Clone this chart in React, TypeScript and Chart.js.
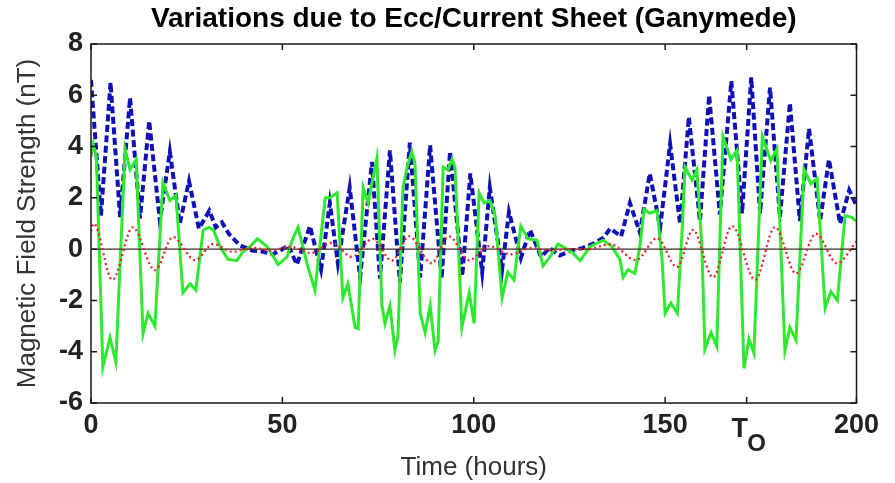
import React, { useEffect, useRef } from 'react';
import { Chart, registerables } from 'chart.js';

Chart.register(...registerables);

const titleText = 'Variations due to Ecc/Current Sheet (Ganymede)';
const xTitle = 'Time (hours)';
const yTitle = 'Magnetic Field Strength (nT)';
const xTickValues = [0, 50, 100, 150, 200];
const yTickValues = [-6, -4, -2, 0, 2, 4, 6, 8];
const tO = 171.3;
const tOMain = 'T';
const tOSub = 'O';

// [time (hours), field (nT)]
const blueSeries: [number, number][] = [
  [0, 6.6], [2.6, 1.3], [5.1, 6.5], [7.6, 1.25], [10.2, 5.9], [12.8, 1.2], [15.2, 5.0], [18.0, 1.1],
  [20.6, 3.8], [23.2, 1.0], [25.6, 2.65], [28.2, 0.8], [30.9, 1.5], [32.6, 0.85], [34.2, 1.05], [36.0, 0.6],
  [38.9, 0.15], [42.0, -0.05], [45.0, -0.1], [47.5, -0.2], [49.5, -0.05], [51.5, 0.15], [53.8, -0.6], [57.2, 0.9],
  [60.1, -0.8], [62.4, 1.8], [64.5, -0.55], [67.6, 2.4], [70.3, -1.1], [73.4, 3.4], [75.5, -1.15], [78.1, 3.85],
  [80.7, -1.3], [83.3, 4.15], [86.0, -1.1], [88.6, 4.05], [91.6, -1.15], [93.8, 3.8], [97.0, -1.05], [99.1, 2.95],
  [102.2, -0.9], [104.2, 2.4], [107.4, -0.8], [109.2, 1.45], [112.3, -0.35], [114.7, 0.75], [117.6, -0.3], [119.8, 0.05],
  [122.5, -0.25], [125.5, -0.05], [128.5, 0.05], [131.0, 0.2], [134.0, 0.45], [135.6, 0.8], [138.5, 0.5], [140.8, 1.8],
  [143.4, 0.65], [146.0, 2.95], [148.7, 0.85], [151.3, 4.1], [153.9, 1.0], [156.2, 5.15], [159.1, 1.1], [161.5, 6.0],
  [164.3, 1.35], [167.3, 6.55], [170.1, 1.4], [172.5, 6.7], [174.8, 1.4], [177.4, 6.3], [180.0, 1.25], [182.6, 5.7],
  [185.2, 1.1], [187.6, 4.7], [190.5, 1.1], [192.8, 3.5], [195.7, 1.0], [198.1, 2.3], [200, 1.7],
];

const greenSeries: [number, number][] = [
  [0, 3.6], [0.6, 4.1], [1.4, 3.6], [3.1, -4.6], [4.96, -3.45], [6.5, -4.4], [8.9, 3.9], [10.2, 3.1],
  [11.8, 3.5], [13.6, -3.3], [14.9, -2.5], [16.7, -3.0], [18.8, 2.6], [20.6, 1.9], [22.2, 2.1], [24.0, -1.7],
  [25.9, -1.35], [27.4, -1.6], [29.3, 0.75], [30.8, 0.85], [32.0, 0.75], [33.7, 0.1], [35.8, -0.4], [38.1, -0.45],
  [39.7, -0.1], [41.5, 0.1], [43.5, 0.4], [46.0, 0.1], [48.9, -0.6], [51.2, -0.3], [52.7, 0.4], [54.1, 0.85],
  [56.5, -0.6], [58.5, -1.6], [61.2, 2.0], [62.4, 2.0], [64.3, 2.2], [65.8, -1.9], [67.1, -1.35], [69.0, -3.05],
  [69.8, -3.1], [71.1, 2.4], [72.4, 1.8], [74.7, 3.55], [76.0, -2.2], [76.8, -2.9], [78.1, -2.2], [79.4, -3.95],
  [80.2, -3.4], [81.5, 2.4], [82.6, 3.2], [83.8, 3.8], [84.65, 3.35], [86.0, -2.5], [87.3, -3.25], [88.6, -2.2],
  [89.9, -3.95], [90.7, -3.6], [92.0, 3.2], [93.3, 3.1], [94.3, 3.5], [95.1, 3.2], [96.9, -3.05], [98.8, -1.7],
  [100.1, -2.9], [101.4, 2.2], [102.7, 1.8], [104.2, 1.9], [105.6, 1.3], [107.4, -1.9], [108.9, -0.9], [110.5, -1.2],
  [112.3, 0.9], [114.2, 0.4], [116.5, 0.35], [118.1, -0.65], [119.9, -0.3], [122.0, 0.2], [123.8, 0.05], [125.9, -0.15],
  [127.8, -0.45], [130.4, 0.1], [133.8, 0.35], [136.1, 0.1], [138.2, -0.4], [139.0, -1.1], [140.3, -0.8], [142.1, -0.95],
  [143.4, 0.1], [144.5, 1.55], [146.05, 1.4], [147.9, 1.5], [149.2, -0.4], [150.0, -2.5], [151.5, -2.1], [153.2, -2.5],
  [154.4, 0.6], [155.2, 3.2], [157.0, 2.7], [158.3, 3.1], [159.6, 0.1], [160.4, -3.9], [162.0, -3.25], [163.5, -3.8],
  [165.1, 4.4], [167.2, 3.5], [168.8, 3.85], [170.6, -4.65], [171.9, -3.5], [173.2, -4.05], [175.4, 4.4], [177.6, 3.45],
  [179.2, 3.9], [181.3, -3.95], [182.6, -3.05], [184.2, -3.55], [186.3, 3.1], [188.1, 2.55], [189.7, 2.75], [191.8, -2.3],
  [193.3, -1.65], [195.0, -2.0], [197.0, 1.3], [198.6, 1.25], [200, 1.1],
];

const redSeries: [number, number][] = [
  [0, 0.7], [0.7, 1.0], [5.6, -1.2], [10.9, 0.85], [16.7, -0.82], [21.4, 0.47], [27.2, -0.43], [31.9, 0.2],
  [37.0, -0.1], [42.0, 0.05], [47.0, -0.05], [52.0, 0.1], [57.5, -0.15], [63.0, 0.25], [68.2, -0.3], [73.6, 0.4],
  [78.6, -0.45], [83.1, 0.5], [89.0, -0.55], [93.5, 0.5], [98.8, -0.43], [104.0, 0.12], [109.5, -0.2], [115.0, 0.05],
  [120.0, -0.05], [125.0, 0], [130.0, 0], [135.6, 0.2], [142.4, -0.43], [147.9, 0.43], [153.1, -0.7], [157.3, 0.75],
  [162.5, -1.1], [167.5, 0.9], [173.5, -1.2], [178.7, 0.86], [184.2, -0.95], [189.4, 0.6], [194.9, -0.55], [200, 0.3],
];

const zeroSeries: [number, number][] = [[0, 0], [200, 0]];

const FONT = '"Liberation Sans", Arial, Helvetica, sans-serif';

const toPoints = (s: [number, number][]) => s.map(([x, y]) => ({ x, y }));

const framePlugin = {
  id: 'matlabFrame',
  afterDatasetsDraw(chart: any) {
    const { ctx, chartArea: a, scales } = chart;
    const x = scales.x;
    const y = scales.y;
    ctx.save();
    ctx.strokeStyle = '#1a1a1a';
    ctx.lineWidth = 1.5;
    ctx.strokeRect(a.left, a.top, a.right - a.left, a.bottom - a.top);
    const L = 6;
    ctx.beginPath();
    [...xTickValues, tO].forEach((v) => {
      const px = x.getPixelForValue(v);
      ctx.moveTo(px, a.bottom);
      ctx.lineTo(px, a.bottom - L);
      ctx.moveTo(px, a.top);
      ctx.lineTo(px, a.top + L);
    });
    yTickValues.forEach((v) => {
      const py = y.getPixelForValue(v);
      ctx.moveTo(a.left, py);
      ctx.lineTo(a.left + L, py);
      ctx.moveTo(a.right, py);
      ctx.lineTo(a.right - L, py);
    });
    ctx.stroke();
    const px = x.getPixelForValue(tO);
    ctx.fillStyle = '#222';
    ctx.textAlign = 'center';
    ctx.textBaseline = 'alphabetic';
    ctx.font = `bold 27px ${FONT}`;
    ctx.fillText(tOMain, px - 7, a.bottom + 34);
    ctx.font = `bold 24px ${FONT}`;
    ctx.fillText(tOSub, px + 10, a.bottom + 48);
    ctx.restore();
  },
};

export default function App() {
  const canvasRef = useRef<HTMLCanvasElement | null>(null);

  useEffect(() => {
    const canvas = canvasRef.current;
    if (!canvas) return;
    const chart = new Chart(canvas, {
      type: 'line',
      data: {
        datasets: [
          {
            label: 'red',
            data: toPoints(redSeries),
            borderColor: '#e8242a',
            borderWidth: 2.3,
            borderDash: [2, 3],
            pointRadius: 0,
            cubicInterpolationMode: 'monotone',
            fill: false,
            order: 0,
          },
          {
            label: 'zero',
            data: toPoints(zeroSeries),
            borderColor: '#3a2a24',
            borderWidth: 1.2,
            pointRadius: 0,
            fill: false,
            order: 1,
          },
          {
            label: 'green',
            data: toPoints(greenSeries),
            borderColor: '#2eea2e',
            borderWidth: 3,
            pointRadius: 0,
            tension: 0,
            fill: false,
            order: 2,
          },
          {
            label: 'blue',
            data: toPoints(blueSeries),
            borderColor: '#1010b8',
            borderWidth: 4,
            borderDash: [7, 3.5],
            pointRadius: 0,
            tension: 0,
            fill: false,
            order: 3,
          },
        ],
      },
      options: {
        responsive: false,
        animation: false,
        devicePixelRatio: 1,
        layout: { padding: { left: 0, right: 38.5, top: 0, bottom: 0 } },
        plugins: {
          legend: { display: false },
          tooltip: { enabled: false },
          title: {
            display: true,
            text: titleText,
            fullSize: false,
            color: '#000',
            font: { family: FONT, size: 28, weight: 'bold' },
            padding: { top: 2.5, bottom: 7.9 },
          },
        },
        scales: {
          x: {
            type: 'linear',
            min: 0,
            max: 200,
            afterBuildTicks: (s: any) => {
              s.ticks = xTickValues.map((value) => ({ value }));
            },
            afterFit: (s: any) => {
              s.height = 80;
            },
            grid: { display: false, drawTicks: false },
            border: { display: false },
            ticks: {
              color: '#222',
              font: { family: FONT, size: 27, weight: 'bold' },
              padding: 6,
              maxRotation: 0,
              autoSkip: false,
            },
            title: {
              display: true,
              text: xTitle,
              color: '#333',
              font: { family: FONT, size: 26 },
              padding: { top: 1.5, bottom: 0 },
            },
          },
          y: {
            type: 'linear',
            min: -6,
            max: 8,
            afterBuildTicks: (s: any) => {
              s.ticks = yTickValues.map((value) => ({ value }));
            },
            afterFit: (s: any) => {
              s.width = 91;
            },
            grid: { display: false, drawTicks: false },
            border: { display: false },
            ticks: {
              color: '#222',
              font: { family: FONT, size: 27, weight: 'bold' },
              padding: 8,
              autoSkip: false,
            },
            title: {
              display: true,
              text: yTitle,
              color: '#333',
              font: { family: FONT, size: 26 },
              padding: { top: 12.5, bottom: 0 },
            },
          },
        },
      },
      plugins: [framePlugin],
    } as any);
    return () => chart.destroy();
  }, []);

  return (
    <div style={{ position: 'fixed', left: 0, top: 0, width: 895, height: 483, background: '#fff' }}>
      <canvas ref={canvasRef} width={895} height={483} style={{ display: 'block' }} />
    </div>
  );
}
